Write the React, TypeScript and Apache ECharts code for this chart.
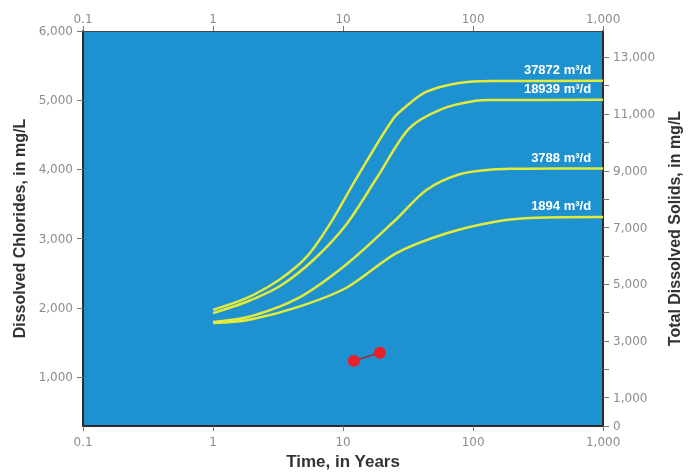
import React, { useEffect, useRef } from "react";
import * as echarts from "echarts";

// Time (years) and dissolved chloride (mg/L)
const t37872 = [1, 1.86, 3.32, 5.33, 7.96, 12.8, 24.4, 32.3, 43.5, 77.6, 141, 1000];
const cl37872 = [1970, 2150, 2420, 2750, 3216, 3884, 4736, 4949, 5119, 5247, 5276, 5280];

const t18939 = [1, 1.86, 3.32, 6.02, 10.7, 18.5, 32.3, 58.6, 104.5, 141, 1000];
const cl18939 = [1923, 2094, 2321, 2705, 3216, 3900, 4594, 4878, 4991, 5003, 5005];

const t3788 = [1, 1.86, 4.47, 10.7, 26, 43.5, 77.6, 141, 250, 1000];
const cl3788 = [1795, 1866, 2136, 2634, 3290, 3699, 3926, 3997, 4011, 4012];

const t1894 = [1, 1.86, 4.47, 10.7, 25.7, 61.8, 148, 299, 1000];
const cl1894 = [1781, 1824, 2009, 2293, 2790, 3074, 3244, 3301, 3312];

const curveNames = ["37872 m³/d", "18939 m³/d", "3788 m³/d", "1894 m³/d"];

const obsTime = [12.1, 19.2];
const obsCl = [1232, 1351];

const leftLabels = [1000, 2000, 3000, 4000, 5000, 6000];
const rightLabels = [0, 1000, 3000, 5000, 7000, 9000, 11000, 13000];
const rightTicks = [0, 1000, 2000, 3000, 4000, 5000, 6000, 7000, 8000, 9000, 10000, 11000, 12000, 13000];

const zip = (a: number[], b: number[]) => a.map((v, i) => [v, b[i]]);

const labelFont = "DejaVu Sans";
const gray = "#8c8c8c";

const fmtX = (v: number) => {
  const n = Number(v.toPrecision(2));
  return n >= 1000 ? n.toLocaleString("en-US") : String(n);
};

export default function App() {
  const ref = useRef<HTMLDivElement>(null);
  useEffect(() => {
    if (!ref.current) return;
    const chart = echarts.init(ref.current, undefined, { renderer: "svg" });
    const curves = [
      zip(t37872, cl37872),
      zip(t18939, cl18939),
      zip(t3788, cl3788),
      zip(t1894, cl1894),
    ];
    const xCommon = {
      type: "log" as const,
      logBase: 10,
      min: 0.1,
      max: 1000,
      splitLine: { show: false },
      minorTick: { show: false },
      axisTick: { show: true, inside: false, length: 5, lineStyle: { color: "#777" } },
    };
    chart.setOption({
      animation: false,
      grid: {
        left: 83,
        right: 81,
        top: 31,
        bottom: 42,
        show: true,
        backgroundColor: "#1e92d0",
        borderWidth: 0,
      },
      xAxis: [
        {
          ...xCommon,
          position: "bottom",
          axisLine: { show: true, lineStyle: { color: "#2b2b2b", width: 2 } },
          axisLabel: { color: gray, fontFamily: labelFont, fontSize: 12, formatter: fmtX, margin: 10 },
          name: "Time, in Years",
          nameLocation: "middle",
          nameGap: 25,
          nameTextStyle: {
            fontFamily: "Liberation Sans Narrow, Liberation Sans",
            fontWeight: "bold",
            fontSize: 17,
            color: "#333",
          },
        },
        {
          ...xCommon,
          position: "top",
          axisLine: { show: true, lineStyle: { color: "#444", width: 1 } },
          axisLabel: { color: gray, fontFamily: labelFont, fontSize: 12, formatter: fmtX, margin: 6 },
        },
      ],
      yAxis: [
        {
          type: "value",
          position: "left",
          min: 290,
          max: 6000,
          splitLine: { show: false },
          axisLine: { show: true, lineStyle: { color: "#2b2b2b", width: 2 } },
          axisTick: { show: true, length: 6, customValues: leftLabels, lineStyle: { color: "#777" } },
          axisLabel: {
            color: gray,
            fontFamily: labelFont,
            fontSize: 12,
            margin: 10,
            customValues: leftLabels,
            formatter: (v: number) => v.toLocaleString("en-US"),
          },
          name: "Dissolved Chlorides, in mg/L",
          nameLocation: "middle",
          nameGap: 52,
          nameRotate: 90,
          nameTextStyle: {
            fontFamily: "Liberation Sans",
            fontWeight: "bold",
            fontSize: 16,
            color: "#333",
          },
        },
        {
          type: "value",
          position: "right",
          min: 0,
          max: 13930,
          splitLine: { show: false },
          axisLine: { show: true, lineStyle: { color: "#2b2b2b", width: 2 } },
          axisTick: { show: true, length: 6, customValues: rightTicks, lineStyle: { color: "#777" } },
          axisLabel: {
            color: gray,
            fontFamily: labelFont,
            fontSize: 12,
            margin: 10,
            customValues: rightLabels,
            formatter: (v: number) => v.toLocaleString("en-US"),
          },
          name: "Total Dissolved Solids, in mg/L",
          nameLocation: "middle",
          nameGap: 62,
          nameRotate: 90,
          nameTextStyle: {
            fontFamily: "Liberation Sans",
            fontWeight: "bold",
            fontSize: 16,
            color: "#333",
          },
        },
      ],
      series: [
        ...curves.map((d, i) => ({
          type: "line",
          name: curveNames[i],
          data: d,
          xAxisIndex: 0,
          yAxisIndex: 0,
          smooth: 0.3,
          showSymbol: false,
          symbol: "none",
          lineStyle: { color: "#e4ea3a", width: 2.5 },
          markPoint: {
            symbol: "circle",
            symbolSize: 0,
            silent: true,
            data: [{ coord: d[d.length - 1] }],
            label: {
              show: true,
              position: "left",
              distance: 5,
              offset: [-7, -11],
              formatter: curveNames[i],
              color: "#ffffff",
              fontFamily: "Liberation Sans",
              fontWeight: "bold",
              fontSize: 13,
            },
          },
        })),
        {
          type: "line",
          data: zip(obsTime, obsCl),
          xAxisIndex: 0,
          yAxisIndex: 0,
          symbol: "circle",
          symbolSize: 12,
          showSymbol: true,
          itemStyle: { color: "#e8202a" },
          lineStyle: { color: "#a02a3c", width: 1.5 },
        },
      ],
    });
    return () => chart.dispose();
  }, []);
  return (
    <div
      ref={ref}
      style={{ position: "fixed", left: 0, top: 0, width: 690, height: 475 }}
    />
  );
}
